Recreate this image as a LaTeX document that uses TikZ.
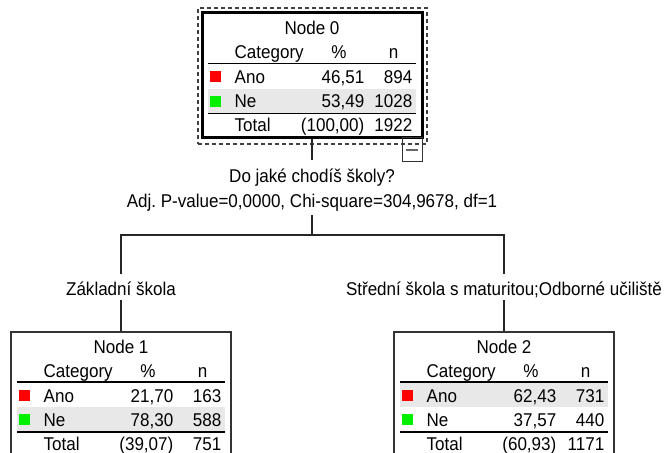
\documentclass[tikz,border=0pt]{standalone}
\usepackage{fontspec}
\setmainfont{Liberation Sans}[FakeStretch=0.92]
\frenchspacing
\newcommand\tabfont{\fontsize{18.5pt}{24pt}\selectfont}
\definecolor{rowbg}{RGB}{232,232,232}
\definecolor{catred}{RGB}{255,0,0}
\definecolor{catgreen}{RGB}{0,240,0}
\tikzset{
  txt/.style={font=\tabfont, inner sep=0pt, text=black},
  ctrtxt/.style={txt, anchor=base},
  lfttxt/.style={txt, anchor=base west},
  rgttxt/.style={txt, anchor=base east},
  swatch/.style={inner sep=0pt, minimum size=11pt, draw=none},
  rulestyle/.style={line width=1.6pt, black},
  conn/.style={line width=1.3pt, black!85},
  rootbox/.style={draw=black, line width=3pt, minimum width=220pt, minimum height=125pt, inner sep=0pt},
  leafbox/.style={draw=black!80, line width=1.5pt, minimum width=220pt, minimum height=125pt, inner sep=0pt},
  selbox/.style={draw=black!75, line width=1.5pt, dash pattern=on 4pt off 3pt, minimum width=229pt, minimum height=136pt, inner sep=0pt},
  togglebox/.style={draw=black!80, line width=1pt, minimum width=20pt, minimum height=24pt, inner sep=0pt},
}
% #1 prefix, #2 title, #3 Ano %, #4 Ano n, #5 Ne %, #6 Ne n, #7 total %, #8 total n, #9 top of highlighted row
\newcommand\cttable[9]{%
  \fill[rowbg] (6,#9) rectangle (213.5,{#9+24});
  \node[ctrtxt] (#1-title) at (110,21) {#2};
  \node[lfttxt] (#1-cat) at (32.5,45) {Category};
  \node[ctrtxt] (#1-pcth) at (137,45) {\%};
  \node[ctrtxt] (#1-nh) at (191.5,45) {n};
  \draw[rulestyle] (6,50) -- (213.5,50);
  \node[swatch, fill=catred] (#1-sqa) at (13.5,63) {};
  \node[lfttxt] (#1-ano) at (32.5,70) {Ano};
  \node[rgttxt] (#1-anop) at (162.5,70) {#3};
  \node[rgttxt] (#1-anon) at (210.5,70) {#4};
  \node[swatch, fill=catgreen] (#1-sqn) at (13.5,87.5) {};
  \node[lfttxt] (#1-ne) at (32.5,94) {Ne};
  \node[rgttxt] (#1-nep) at (162.5,94) {#5};
  \node[rgttxt] (#1-nen) at (210.5,94) {#6};
  \draw[rulestyle] (6,100) -- (213.5,100);
  \node[lfttxt] (#1-tot) at (32.5,118) {Total};
  \node[rgttxt] (#1-totp) at (162.5,118) {#7};
  \node[rgttxt] (#1-totn) at (210.5,118) {#8};
}
\begin{document}
\begin{tikzpicture}[x=1pt,y=-1pt]
\useasboundingbox (0,0) rectangle (665,453);
\clip (0,0) rectangle (665,453);
\fill[white] (0,0) rectangle (665,453);

% root node
\node[selbox] (n0sel) at (312.5,76) {};
\node[rootbox] (n0) at (312,74.5) {};
\node[togglebox] (n0tog) at (412,149) {};
\draw[line width=2pt, black!60] ([xshift=-6pt,yshift=-1pt]n0tog.center) -- ([xshift=6pt,yshift=-1pt]n0tog.center);
\begin{scope}[shift={(202,13.5)}]
  \cttable{t0}{Node 0}{46,51}{894}{53,49}{1028}{(100,00)}{1922}{75}
\end{scope}

% split text
\node[ctrtxt, text height=22pt, text depth=0pt] (q1) at (312,182) {Do jaké chodíš školy?};
\node[ctrtxt, text height=0pt, text depth=8pt] (q2) at (312,207) {Adj. P-value=0,0000, Chi-square=304,9678, df=1};
\coordinate (split) at (312,235);

% branch labels
\node[ctrtxt, text height=21pt, text depth=5pt] (l1) at (121,295) {Základní škola};
\node[ctrtxt, text height=21pt, text depth=5pt] (l2) at (504,295) {Střední škola s maturitou;Odborné učiliště};

% child nodes
\node[leafbox] (n1) at (121,394.5) {};
\node[leafbox] (n2) at (504,394.5) {};
\begin{scope}[shift={(11,332)}]
  \cttable{t1}{Node 1}{21,70}{163}{78,30}{588}{(39,07)}{751}{75}
\end{scope}
\begin{scope}[shift={(394,332)}]
  \cttable{t2}{Node 2}{62,43}{731}{37,57}{440}{(60,93)}{1171}{51}
\end{scope}

% connectors
\draw[conn] (n0.south) -- (q1.north);
\draw[conn] (q2.south) -- (split);
\draw[conn] (l1.north) |- (split) -| (l2.north);
\draw[conn] (l1.south) -- (n1.north);
\draw[conn] (l2.south) -- (n2.north);
\end{tikzpicture}
\end{document}
